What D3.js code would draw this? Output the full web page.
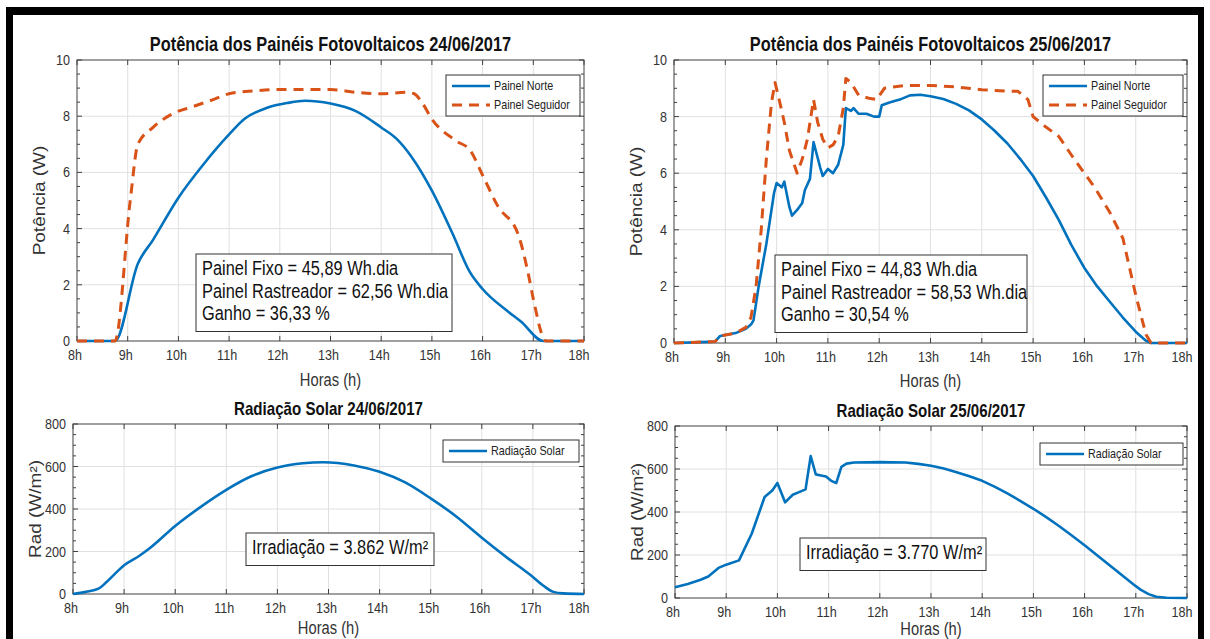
<!DOCTYPE html>
<html>
<head>
<meta charset="utf-8">
<script src="https://cdn.jsdelivr.net/npm/d3@7"></script>
<style>
  body { margin: 0; background: #fff; }
  svg { display: block; font-family: "Liberation Sans", Arial, sans-serif; }
</style>
</head>
<body>
<div id="chart"></div>
<script>
// values (hours, watts, W/m2)
const horasNorte24 = [8, 8.75, 9.2, 9.5, 10, 10.5, 11, 11.3, 11.75, 12.15, 12.5, 13, 13.5, 14, 14.3, 14.6, 15, 15.4, 15.75, 16, 16.5, 16.75, 17.2, 18];
const norte24 = [0, 0, 2.75, 3.6, 5.1, 6.3, 7.35, 7.9, 8.3, 8.47, 8.55, 8.45, 8.18, 7.6, 7.2, 6.55, 5.35, 3.85, 2.45, 1.85, 1.05, 0.7, 0, 0];

const horasSeguidor24 = [8, 8.75, 9.05, 9.2, 9.5, 9.9, 10.3, 10.7, 11, 11.5, 12, 12.5, 13, 13.5, 14, 14.5, 14.65, 14.8, 15, 15.5, 15.75, 16, 16.3, 16.7, 16.9, 17, 17.25, 18];
const seguidor24 = [0, 0, 5.0, 7.0, 7.6, 8.1, 8.35, 8.6, 8.8, 8.9, 8.95, 8.95, 8.95, 8.85, 8.8, 8.85, 8.8, 8.5, 7.9, 7.1, 6.8, 5.9, 4.8, 3.8, 2.4, 1.5, 0, 0];

const horasNorte25 = [8, 8.8, 8.9, 9.2, 9.4, 9.5, 9.55, 9.65, 9.8, 9.95, 10, 10.1, 10.15, 10.25, 10.3, 10.4, 10.5, 10.55, 10.65, 10.72, 10.85, 10.9, 11, 11.1, 11.2, 11.3, 11.35, 11.45, 11.5, 11.6, 11.75, 11.9, 12, 12.05, 12.2, 12.4, 12.6, 12.8, 13, 13.25, 13.5, 13.75, 14, 14.25, 14.5, 14.75, 15, 15.25, 15.5, 15.75, 16, 16.25, 16.5, 16.75, 17, 17.2, 17.3, 18];
const norte25 = [0, 0.05, 0.25, 0.35, 0.5, 0.65, 0.8, 2.0, 3.5, 5.3, 5.65, 5.5, 5.7, 4.8, 4.5, 4.7, 4.95, 5.4, 5.8, 7.1, 6.2, 5.9, 6.15, 6.0, 6.3, 7.0, 8.3, 8.2, 8.3, 8.1, 8.1, 8.0, 8.0, 8.4, 8.5, 8.6, 8.75, 8.77, 8.72, 8.62, 8.45, 8.22, 7.9, 7.5, 7.05, 6.5, 5.9, 5.15, 4.35, 3.45, 2.65, 2.0, 1.45, 0.9, 0.4, 0.08, 0, 0];

const horasSeguidor25 = [8, 8.8, 8.9, 9.2, 9.4, 9.5, 9.6, 9.7, 9.8, 9.9, 9.97, 10.05, 10.15, 10.25, 10.4, 10.5, 10.6, 10.72, 10.8, 10.9, 11, 11.1, 11.2, 11.3, 11.35, 11.45, 11.6, 11.8, 11.95, 12.1, 12.5, 13, 13.5, 14, 14.5, 14.7, 14.9, 15, 15.2, 15.5, 15.8, 16, 16.2, 16.5, 16.75, 16.9, 17, 17.2, 17.3, 18];
const seguidor25 = [0, 0.05, 0.25, 0.35, 0.55, 0.9, 2.0, 4.0, 6.5, 8.5, 9.2, 8.6, 7.8, 6.8, 6.0, 6.5, 7.2, 8.6, 7.8, 7.2, 6.9, 7.0, 7.3, 8.3, 9.35, 9.2, 8.75, 8.65, 8.6, 9.0, 9.1, 9.1, 9.05, 8.95, 8.9, 8.9, 8.6, 8.0, 7.7, 7.3, 6.5, 6.0, 5.5, 4.6, 3.7, 2.5, 1.7, 0.3, 0, 0];

const horasRad24 = [8, 8.25, 8.5, 8.65, 8.8, 9, 9.3, 9.5, 10, 10.5, 11, 11.5, 12, 12.5, 12.9, 13.5, 14, 14.5, 15, 15.5, 16, 16.5, 17, 17.2, 17.4, 17.6, 18];
const rad24 = [0, 10, 25, 55, 90, 135, 180, 215, 320, 410, 490, 555, 595, 615, 620, 605, 575, 525, 450, 365, 265, 170, 80, 40, 10, 3, 0];

const horasRad25 = [8, 8.25, 8.5, 8.65, 8.85, 9, 9.25, 9.5, 9.75, 9.9, 10, 10.15, 10.3, 10.4, 10.55, 10.65, 10.75, 10.85, 10.95, 11.05, 11.15, 11.25, 11.35, 11.5, 12, 12.5, 12.75, 13, 13.25, 13.5, 13.75, 14, 14.25, 14.5, 14.75, 15, 15.25, 15.5, 15.75, 16, 16.25, 16.5, 16.75, 17, 17.1, 17.25, 17.4, 17.6, 18];
const rad25 = [50, 65, 85, 100, 140, 155, 175, 300, 470, 500, 535, 445, 480, 490, 505, 660, 575, 570, 565, 545, 535, 610, 625, 630, 632, 630, 624, 615, 602, 585, 566, 545, 517, 485, 451, 415, 376, 335, 291, 245, 198, 150, 102, 55, 38, 18, 6, 1, 0];

const horasTicks = [8, 9, 10, 11, 12, 13, 14, 15, 16, 17, 18];
const potenciaTicks = [0, 2, 4, 6, 8, 10];
const radTicks = [0, 200, 400, 600, 800];

const azul = "#0072BD", laranja = "#D95319";

const svg = d3.select("#chart").append("svg")
  .attr("width", 1210)
  .attr("height", 639);

// black frame of the original figure
svg.append("rect").attr("x", 6).attr("y", 7).attr("width", 1198).attr("height", 8).attr("fill", "#000");
svg.append("rect").attr("x", 6).attr("y", 7).attr("width", 7).attr("height", 640).attr("fill", "#000");
svg.append("rect").attr("x", 1198).attr("y", 7).attr("width", 6).attr("height", 640).attr("fill", "#000");

// the source image is squeezed sideways, so horizontal text is narrowed
const squeeze = 0.84;
function hText(parent, x, y, size, txt) {
  return parent.append("text")
    .attr("transform", "translate(" + x + "," + y + ") scale(" + squeeze + ",1)")
    .attr("font-size", size)
    .text(txt);
}

function drawPanel(p) {
  const x = d3.scaleLinear().domain([8, 18]).range([p.left, p.right]);
  const y = d3.scaleLinear().domain([0, p.yTicks[p.yTicks.length - 1]]).range([p.bottom, p.top]);
  const g = svg.append("g");

  // grid
  g.selectAll(".gx").data(horasTicks.slice(1, -1)).enter().append("line")
    .attr("x1", d => x(d)).attr("x2", d => x(d))
    .attr("y1", p.top).attr("y2", p.bottom)
    .attr("stroke", "#e0e0e0").attr("stroke-width", 1);
  g.selectAll(".gy").data(p.yTicks.slice(1, -1)).enter().append("line")
    .attr("y1", d => y(d)).attr("y2", d => y(d))
    .attr("x1", p.left).attr("x2", p.right)
    .attr("stroke", "#e0e0e0").attr("stroke-width", 1);

  // minor ticks on left and right
  const step = p.yTicks[1] - p.yTicks[0];
  const minor = d3.range(0, p.yTicks[p.yTicks.length - 1] + step / 8, step / 4);
  g.selectAll(".ml").data(minor).enter().append("line")
    .attr("x1", p.left).attr("x2", d => p.left + (p.yTicks.includes(d) ? 5 : 3))
    .attr("y1", d => y(d)).attr("y2", d => y(d))
    .attr("stroke", "#404040");
  g.selectAll(".mr").data(minor).enter().append("line")
    .attr("x1", p.right).attr("x2", d => p.right - (p.yTicks.includes(d) ? 5 : 3))
    .attr("y1", d => y(d)).attr("y2", d => y(d))
    .attr("stroke", "#404040");
  g.selectAll(".tt").data(horasTicks).enter().append("line")
    .attr("x1", d => x(d)).attr("x2", d => x(d))
    .attr("y1", p.top).attr("y2", p.top + 5)
    .attr("stroke", "#404040");
  g.selectAll(".tb").data(horasTicks).enter().append("line")
    .attr("x1", d => x(d)).attr("x2", d => x(d))
    .attr("y1", p.bottom).attr("y2", p.bottom - 5)
    .attr("stroke", "#404040");

  // box
  g.append("rect")
    .attr("x", p.left).attr("y", p.top)
    .attr("width", p.right - p.left).attr("height", p.bottom - p.top)
    .attr("fill", "none").attr("stroke", "#404040").attr("stroke-width", 1);

  // tick labels (slightly left of the tick, as in the original)
  horasTicks.forEach(d => {
    hText(g, x(d) - (d === 18 ? 5 : 2), p.bottom + 19, 15, d + "h")
      .attr("text-anchor", "middle").attr("fill", "#333");
  });
  p.yTicks.forEach(d => {
    hText(g, p.left - 7, y(d) + 5, 15, d)
      .attr("text-anchor", "end").attr("fill", "#333");
  });

  // lines
  p.series.forEach(s => {
    const line = d3.line().x(d => x(d[0])).y(d => y(d[1]))
      .curve(p.suave ? d3.curveMonotoneX : d3.curveLinear);
    g.append("path")
      .datum(d3.zip(s.horas, s.valores))
      .attr("d", line)
      .attr("fill", "none")
      .attr("stroke", s.cor)
      .attr("stroke-width", s.dash ? 3 : 2.6)
      .attr("stroke-dasharray", s.dash ? "10,7" : null)
      .attr("stroke-linejoin", "round");
  });

  // titles
  hText(g, (p.left + p.right) / 2, p.top - 9, p.tituloSize, p.titulo)
    .attr("text-anchor", "middle").attr("font-weight", "bold").attr("fill", "#111");
  hText(g, (p.left + p.right) / 2, p.xLabelY, 17.5, "Horas (h)")
    .attr("text-anchor", "middle").attr("fill", "#333");
  g.append("text")
    .attr("transform", "translate(" + (p.left - 32) + "," + ((p.top + p.bottom) / 2) + ") rotate(-90) scale(1," + squeeze + ")")
    .attr("text-anchor", "middle")
    .attr("font-size", 19).attr("fill", "#333")
    .text(p.yLabel);

  // legend
  const lg = g.append("g").attr("transform", "translate(" + p.legend[0] + "," + p.legend[1] + ")");
  lg.append("rect")
    .attr("width", p.legend[2]).attr("height", p.series.length * 19 + 3)
    .attr("fill", "#fff").attr("stroke", "#333").attr("stroke-width", 1);
  p.series.forEach((s, i) => {
    lg.append("line")
      .attr("x1", 6).attr("x2", 44)
      .attr("y1", 11 + i * 19).attr("y2", 11 + i * 19)
      .attr("stroke", s.cor)
      .attr("stroke-width", s.dash ? 3 : 2.6)
      .attr("stroke-dasharray", s.dash ? "10,7" : null);
    hText(lg, 48, 15 + i * 19, 12.8, s.nome).attr("fill", "#222");
  });

  // annotation box
  const ab = g.append("g").attr("transform", "translate(" + p.nota[0] + "," + p.nota[1] + ")");
  ab.append("rect")
    .attr("width", p.nota[2]).attr("height", p.texto.length * 22.5 + 10)
    .attr("fill", "#fff").attr("stroke", "#333").attr("stroke-width", 1);
  p.texto.forEach((d, i) => {
    hText(ab, 6, 21 + i * 22.5, 19.5, d).attr("fill", "#111");
  });
}

drawPanel({
  left: 77, right: 584, top: 60, bottom: 341, yTicks: potenciaTicks, suave: true,
  titulo: "Potência dos Painéis Fotovoltaicos 24/06/2017", tituloSize: 19.5, xLabelY: 386, yLabel: "Potência (W)",
  series: [
    { nome: "Painel Norte", horas: horasNorte24, valores: norte24, cor: azul },
    { nome: "Painel Seguidor", horas: horasSeguidor24, valores: seguidor24, cor: laranja, dash: true }
  ],
  legend: [446, 75, 134],
  nota: [196, 254, 256],
  texto: ["Painel Fixo = 45,89 Wh.dia", "Painel Rastreador = 62,56 Wh.dia", "Ganho = 36,33 %"]
});

drawPanel({
  left: 674, right: 1187, top: 60, bottom: 343, yTicks: potenciaTicks, suave: false,
  titulo: "Potência dos Painéis Fotovoltaicos 25/06/2017", tituloSize: 19.5, xLabelY: 387, yLabel: "Potência (W)",
  series: [
    { nome: "Painel Norte", horas: horasNorte25, valores: norte25, cor: azul },
    { nome: "Painel Seguidor", horas: horasSeguidor25, valores: seguidor25, cor: laranja, dash: true }
  ],
  legend: [1043, 75, 140],
  nota: [775, 255, 252],
  texto: ["Painel Fixo = 44,83 Wh.dia", "Painel Rastreador = 58,53 Wh.dia", "Ganho = 30,54 %"]
});

drawPanel({
  left: 73, right: 584, top: 424, bottom: 594, yTicks: radTicks, suave: true,
  titulo: "Radiação Solar 24/06/2017", tituloSize: 18, xLabelY: 634, yLabel: "Rad (W/m²)",
  series: [
    { nome: "Radiação Solar", horas: horasRad24, valores: rad24, cor: azul }
  ],
  legend: [443, 440, 136],
  nota: [246, 533, 188],
  texto: ["Irradiação = 3.862 W/m²"]
});

drawPanel({
  left: 675, right: 1187, top: 426, bottom: 598, yTicks: radTicks, suave: false,
  titulo: "Radiação Solar 25/06/2017", tituloSize: 18, xLabelY: 635, yLabel: "Rad (W/m²)",
  series: [
    { nome: "Radiação Solar", horas: horasRad25, valores: rad25, cor: azul }
  ],
  legend: [1040, 443, 143],
  nota: [800, 538, 186],
  texto: ["Irradiação = 3.770 W/m²"]
});
</script>
</body>
</html>
